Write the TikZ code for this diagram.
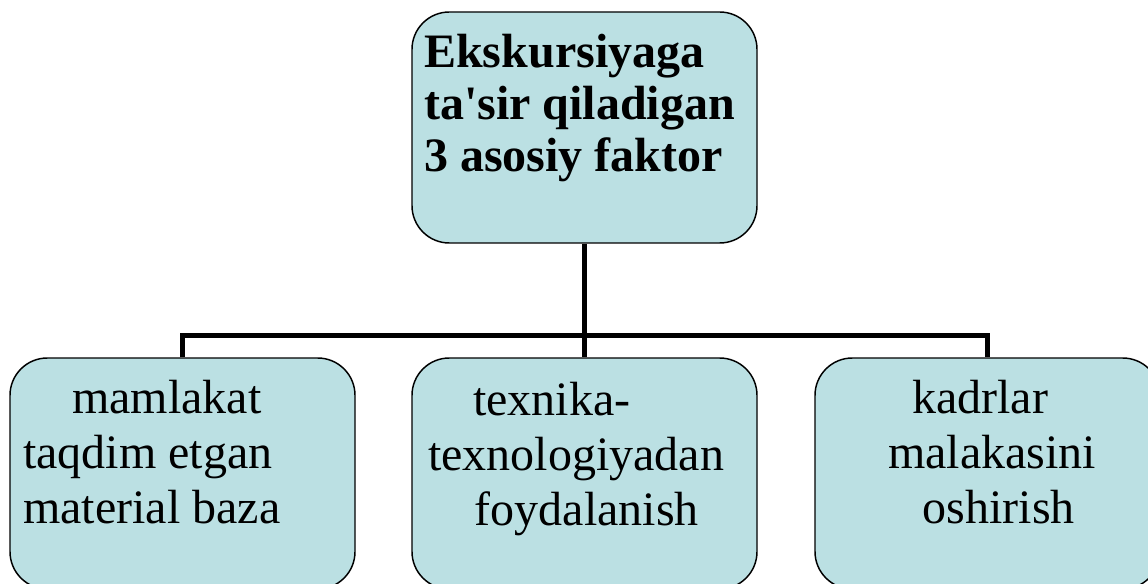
\documentclass[tikz,border=0pt]{standalone}
\usepackage{fontspec}
\setmainfont{Liberation Serif}
\usetikzlibrary{positioning}
\definecolor{boxfill}{RGB}{187,224,227}
\tikzset{
  factor/.style={draw=black, line width=1.1pt, fill=boxfill, rounded corners=28pt,
    minimum width=258.75pt, minimum height=173.25pt, inner sep=0pt},
  headtext/.style={anchor=base west, align=left, inner sep=0pt,
    font=\fontsize{36}{39}\selectfont\bfseries},
  itemtext/.style={anchor=base west, align=left, inner sep=0pt,
    font=\fontsize{36}{41.25}\selectfont},
  link/.style={line width=3.75pt, draw=black}
}
\begin{document}
\begin{tikzpicture}[x=0.75pt, y=-0.75pt]
\useasboundingbox (0,0) rectangle (1148,584);
\node[factor] (top) at (584.5,127.5) {};
\node[factor] (lft) at (182.5,473.5) {};
\node[factor] (mid) at (584.5,473.5) {};
\node[factor] (rgt) at (987.5,473.5) {};
\coordinate (bus) at (584.5,335);
% connectors
\draw[link] (top.south) -- (mid.north);
\draw[link] (lft.north) |- (bus) -| (rgt.north);
% texts (placed by the baseline of their last line)
\node[headtext] (toptxt) at (424,172) {Ekskursiyaga\\ta\textquotesingle sir qiladigan\\3 asosiy faktor};
\node[itemtext] (lfttxt) at (23,523) {\hspace*{36.75pt}mamlakat\\taqdim etgan\\material baza};
\node[itemtext] (midtxt) at (428,525) {\hspace*{33.75pt}texnika-\\texnologiyadan\\\hspace*{35pt}foydalanish};
\node[itemtext] (rgttxt) at (888,523) {\hspace*{18pt}kadrlar\\malakasini\\\hspace*{26pt}oshirish};
\end{tikzpicture}
\end{document}
